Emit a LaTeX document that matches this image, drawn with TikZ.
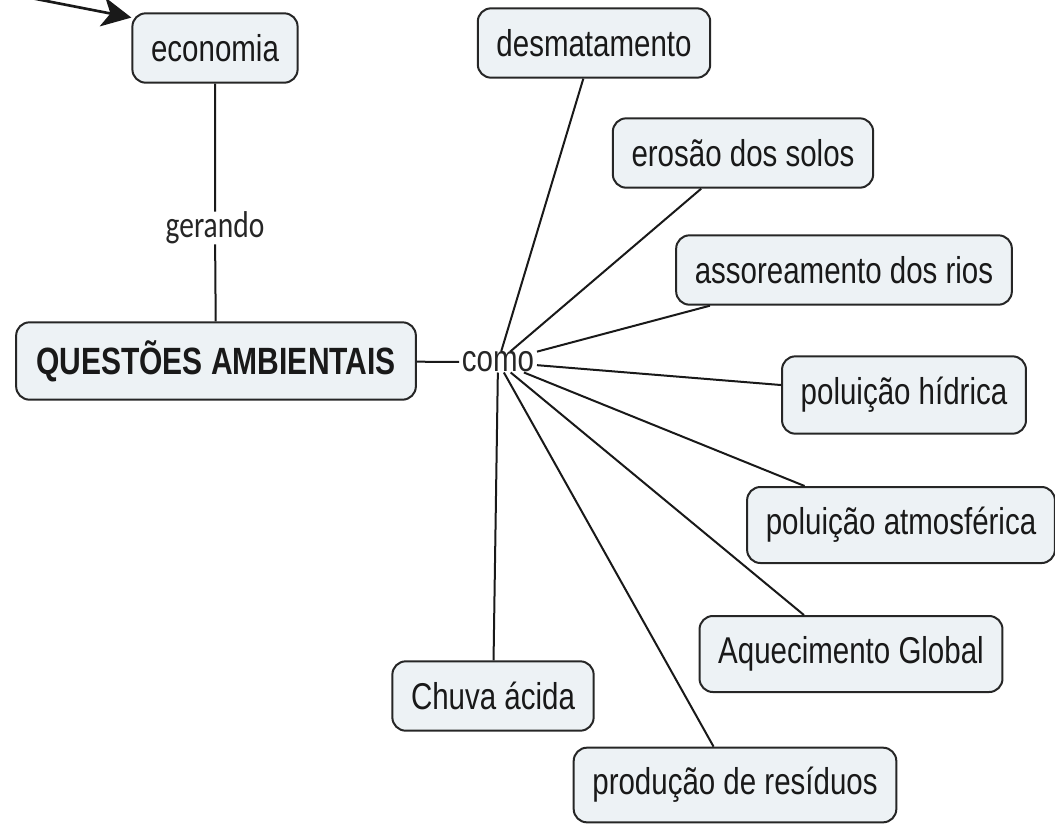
\documentclass[tikz,border=0pt]{standalone}
\usepackage{fontspec}
\setmainfont[FakeStretch=0.79]{Liberation Sans}
\newfontfamily\linkfont[FakeStretch=0.79]{Carlito}
\usetikzlibrary{arrows.meta}

\definecolor{boxfill}{RGB}{237,242,245}

\begin{document}
\begin{tikzpicture}[x=0.75pt, y=-0.75pt, >={Stealth[length=22pt, width=22pt, inset=6pt]},
    concept/.style={draw=black!85, fill=boxfill, line width=1.5pt, rounded corners=10pt,
      inner xsep=14pt, minimum height=52pt, text=black!90, font=\fontsize{28}{30}\selectfont},
    mainconcept/.style={concept, minimum height=58pt, inner xsep=15pt, font=\fontsize{28.5}{30}\selectfont\bfseries},
    link/.style={inner xsep=2pt, inner ysep=0pt, text=black!85, font=\fontsize{28}{30}\selectfont},
    conn/.style={line width=1.5pt, draw=black!90}]
  \useasboundingbox (0,0) rectangle (1055,825);

  \node [concept] (economia) at (215,48) {economia};
  \node [link, font=\linkfont\fontsize{28}{30}\selectfont] (gerando) at (215,228) {gerando};
  \node [mainconcept] (questoes) at (216,361) {QUESTÕES AMBIENTAIS};
  \node [link] (como) at (498,362) {como};

  \node [concept] (desmatamento) at (594,43) {desmatamento};
  \node [concept] (erosao) at (743,153) {erosão dos solos};
  \node [concept] (assoreamento) at (844,270) {assoreamento dos rios};
  \node [concept, minimum height=58pt] (hidrica) at (904,395) {poluição hídrica};
  \node [concept, minimum height=57pt] (atmosferica) at (901,525) {poluição atmosférica};
  \node [concept, minimum height=57pt] (aquecimento) at (851,654) {Aquecimento Global};
  \node [concept] (chuva) at (493,696) {Chuva ácida};
  \node [concept, minimum height=56pt] (residuos) at (735,785) {produção de resíduos};

  \coordinate (origem) at (-10,-10);
  \draw [conn, line width=2pt, ->] (origem) -- (economia.160);
  \draw [conn] (economia) -- (gerando) -- (questoes);
  \draw [conn] (questoes) -- (como);
  \foreach \alvo in {desmatamento, erosao, assoreamento, hidrica, atmosferica, aquecimento, chuva, residuos}
    \draw [conn] (como) -- (\alvo);
\end{tikzpicture}
\end{document}
